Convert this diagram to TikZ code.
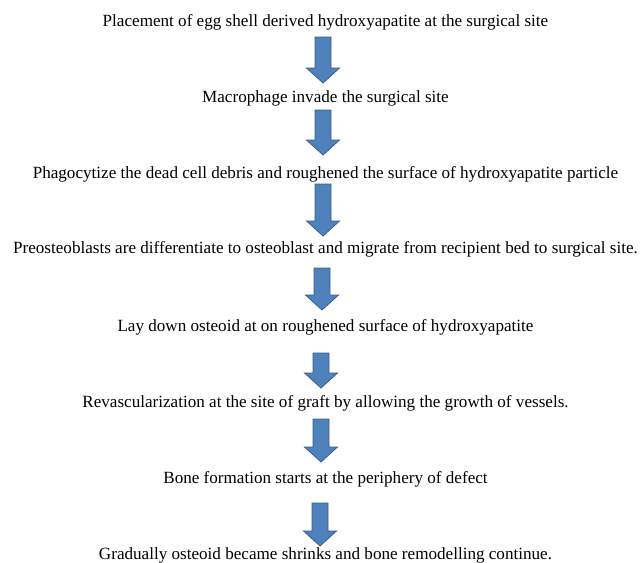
\documentclass[tikz,border=0pt]{standalone}
\usepackage{fontspec}
\setmainfont{Liberation Serif}
\usepackage{xcolor}
\usepackage{tikz}
\usetikzlibrary{calc}

\definecolor{arrowblue}{HTML}{4F81BD}
\definecolor{arrowedge}{HTML}{385D8A}

% block arrow pointing down: x, top y, tip y
\newcommand{\downblock}[3]{%
    \draw[blockarrow] (#1-8,#2) -- (#1+8,#2) -- (#1+8,#3+15) -- (#1+16.5,#3+15)
        -- (#1,#3) -- (#1-16.5,#3+15) -- (#1-8,#3+15) -- cycle;}

\begin{document}
\begin{tikzpicture}[x=1pt,y=1pt,
    stepline/.style={anchor=base,inner sep=0pt,font=\fontsize{17.1}{20}\selectfont},
    blockarrow/.style={fill=arrowblue,draw=arrowedge,line width=0.8pt,line join=miter}]
    \useasboundingbox (0,0) rectangle (641,-563);
    \node[stepline] (s1) at (325.5,-26) {Placement of egg shell derived hydroxyapatite at the surgical site};
    \node[stepline] (s2) at (325.5,-102) {Macrophage invade the surgical site};
    \node[stepline] (s3) at (325.5,-178) {Phagocytize the dead cell debris and roughened the surface of hydroxyapatite particle};
    \node[stepline] (s4) at (325.5,-253) {Preosteoblasts are differentiate to osteoblast and migrate from recipient bed to surgical site.};
    \node[stepline] (s5) at (325.5,-331) {Lay down osteoid at on roughened surface of hydroxyapatite};
    \node[stepline] (s6) at (325.5,-407) {Revascularization at the site of graft by allowing the growth of vessels.};
    \node[stepline] (s7) at (325.5,-483) {Bone formation starts at the periphery of defect};
    \node[stepline] (s8) at (325.5,-559) {Gradually osteoid became shrinks and bone remodelling continue.};
    \downblock{323}{-37}{-83}
    \downblock{323}{-110}{-155}
    \downblock{323}{-184}{-236}
    \downblock{322}{-268}{-310}
    \downblock{321}{-353}{-388}
    \downblock{321}{-419}{-462}
    \downblock{320}{-503}{-546}
\end{tikzpicture}
\end{document}
